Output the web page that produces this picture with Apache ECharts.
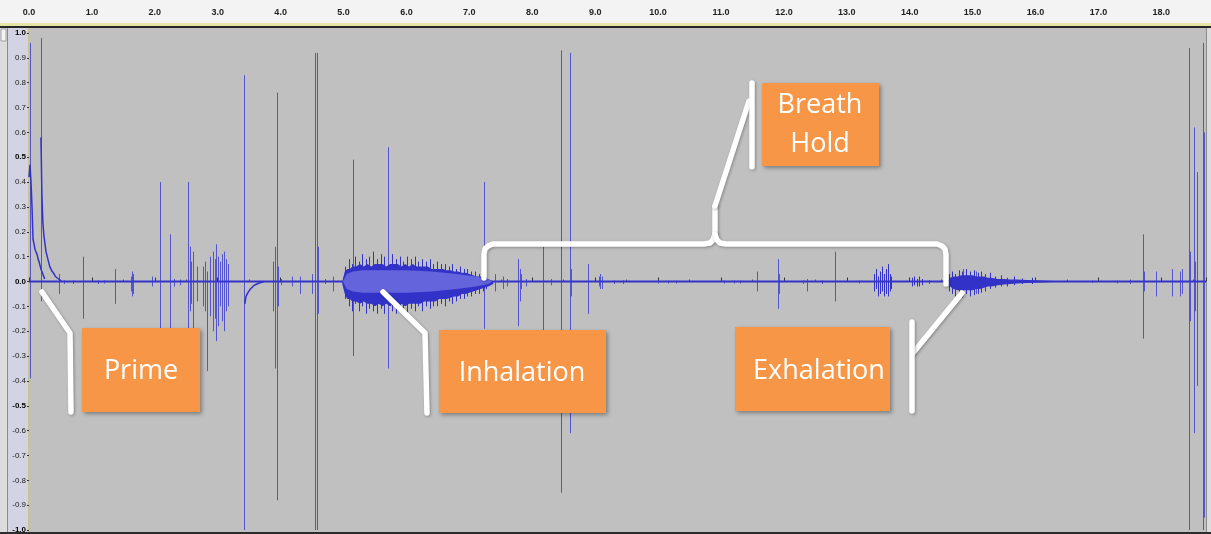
<!DOCTYPE html>
<html>
<head>
<meta charset="utf-8">
<script src="https://cdn.jsdelivr.net/npm/echarts@6/dist/echarts.min.js"></script>
<style>
  html, body { margin: 0; padding: 0; background: #f3f3f3; }
  #chart { width: 1211px; height: 534px; }
</style>
</head>
<body>
<div id="chart"></div>
<script>
// time range of the recording (seconds) and amplitude range
const TIME_MAX = 18.71;
const BOLD_TICKS = ["1.0", "0.5", "0.0", "-0.5", "-1.0"];

// single clicks / spikes: [time, max, min]
const SPIKES = [
  [0.016, 0.96, -0.39], [0.19, 0.98, -0.08], [0.48, 0.03, -0.05], [0.86, 0.10, -0.15],
  [1.37, 0.05, -0.09], [1.62, 0.02, -0.04], [1.64, 0.04, -0.06], [1.66, 0.03, -0.05],
  [1.96, 0.02, -0.02], [2.08, 0.40, -0.19], [2.24, 0.19, -0.21], [2.53, 0.40, -0.19],
  [2.56, 0.14, -0.12], [2.58, 0.08, -0.09], [2.61, 0.12, -0.20], [2.67, 0.06, -0.08],
  [2.77, 0.06, -0.10], [2.80, 0.08, -0.12], [2.83, 0.04, -0.36], [2.88, 0.10, -0.14],
  [2.93, 0.12, -0.20], [2.95, 0.09, -0.15], [2.97, 0.15, -0.24], [3.00, 0.10, -0.18],
  [3.04, 0.08, -0.10], [3.07, 0.11, -0.16], [3.10, 0.12, -0.20], [3.13, 0.09, -0.12],
  [3.16, 0.07, -0.10], [3.42, 0.83, -1.00], [3.88, 0.08, -0.12], [3.91, 0.14, -0.35],
  [3.94, 0.76, -0.88], [3.96, 0.06, -0.10], [4.18, 0.02, -0.02], [4.31, 0.02, -0.05],
  [4.50, 0.03, -0.05], [4.55, 0.92, -1.00], [4.58, 0.92, -1.00], [4.60, 0.14, -0.13],
  [4.83, 0.02, -0.04], [5.15, 0.49, -0.30], [5.71, 0.54, -0.35], [7.23, 0.40, -0.19],
  [7.40, 0.03, -0.04], [7.54, 0.02, -0.03], [7.77, 0.09, -0.18], [7.80, 0.05, -0.08],
  [7.82, 0.03, -0.03], [8.17, 0.14, -0.20], [8.46, 0.93, -0.85], [8.60, 0.92, -0.61],
  [8.62, 0.05, -0.06], [8.89, 0.07, -0.13], [9.06, 0.02, -0.02], [9.08, 0.03, -0.03],
  [9.11, 0.02, -0.03], [11.57, 0.04, -0.04], [11.91, 0.09, -0.11], [11.93, 0.03, -0.05],
  [12.37, 0.01, -0.04], [12.81, 0.12, -0.08], [14.85, 0.05, -0.06], [15.05, 0.04, -0.05],
  [17.71, 0.19, -0.23], [17.73, 0.04, -0.04], [17.92, 0.04, -0.06], [18.17, 0.05, -0.06],
  [18.30, 0.04, -0.06], [18.33, 0.05, -0.05], [18.44, 0.94, -1.00], [18.46, 0.12, -0.16],
  [18.52, 0.62, -0.61], [18.54, 0.08, -0.12], [18.57, 0.44, -0.42], [18.66, 0.96, -1.00],
  [18.68, 0.60, -0.95]
];

// dense hair-like peaks inside the breath sounds and small bursts: [time, max, min]
const HAIRS = [
  [5.02, 0.06, -0.07], [5.08, 0.09, -0.10], [5.13, 0.07, -0.12], [5.19, 0.10, -0.09],
  [5.24, 0.08, -0.12], [5.29, 0.11, -0.10], [5.35, 0.09, -0.13], [5.41, 0.10, -0.11],
  [5.47, 0.12, -0.12], [5.53, 0.09, -0.13], [5.59, 0.11, -0.11], [5.65, 0.10, -0.13],
  [5.77, 0.11, -0.12], [5.83, 0.09, -0.13], [5.89, 0.10, -0.11], [5.95, 0.08, -0.12],
  [6.01, 0.10, -0.13], [6.07, 0.09, -0.11], [6.13, 0.10, -0.12], [6.19, 0.08, -0.10],
  [6.25, 0.09, -0.12], [6.31, 0.08, -0.10], [6.37, 0.09, -0.11], [6.43, 0.07, -0.10],
  [6.49, 0.08, -0.10], [6.55, 0.07, -0.09], [6.61, 0.07, -0.10], [6.67, 0.06, -0.08],
  [6.73, 0.07, -0.09], [6.79, 0.05, -0.08], [6.85, 0.06, -0.07], [6.91, 0.05, -0.07],
  [6.97, 0.05, -0.06], [7.03, 0.04, -0.06], [7.09, 0.04, -0.05], [7.15, 0.03, -0.05],
  [7.21, 0.03, -0.04], [7.27, 0.02, -0.03],
  [13.44, 0.03, -0.04], [13.47, 0.05, -0.03], [13.50, 0.02, -0.06], [13.53, 0.04, -0.05],
  [13.56, 0.06, -0.04], [13.59, 0.03, -0.06], [13.62, 0.05, -0.05], [13.65, 0.07, -0.06],
  [13.68, 0.03, -0.04], [13.71, 0.02, -0.03],
  [14.03, 0.015, -0.02], [14.07, 0.02, -0.015], [14.11, 0.01, -0.02], [14.15, 0.02, -0.02],
  [14.19, 0.01, -0.015],
  [14.62, 0.03, -0.04], [14.67, 0.04, -0.05], [14.72, 0.03, -0.06], [14.78, 0.045, -0.05],
  [14.83, 0.04, -0.065], [14.90, 0.05, -0.05], [14.96, 0.04, -0.06], [15.02, 0.045, -0.055],
  [15.08, 0.035, -0.05], [15.14, 0.04, -0.045], [15.20, 0.03, -0.04], [15.27, 0.035, -0.03],
  [15.35, 0.02, -0.025], [15.45, 0.025, -0.02], [15.55, 0.015, -0.02], [15.65, 0.02, -0.015],
  [15.78, 0.012, -0.01], [15.95, 0.015, -0.01]
];

// low level noise on the baseline: [time, max, min]
const NOISE = [
  [0.55, 0.005, -0.01], [0.70, 0.005, -0.01], [1.10, 0.005, -0.01], [1.20, 0.005, -0.008],
  [2.30, 0.01, -0.02], [2.40, 0.008, -0.015], [4.00, 0.01, -0.015], [4.70, 0.01, -0.01],
  [7.60, 0.01, -0.02], [7.90, 0.01, -0.02], [8.30, 0.01, -0.015], [9.30, 0.005, -0.01],
  [9.45, 0.005, -0.01], [10.00, 0.004, -0.008], [10.15, 0.004, -0.008], [10.28, 0.004, -0.008],
  [11.05, 0.004, -0.008], [11.20, 0.004, -0.008], [11.30, 0.004, -0.008], [12.30, 0.005, -0.01],
  [12.60, 0.005, -0.01], [13.20, 0.004, -0.008], [14.30, 0.006, -0.01], [16.90, 0.004, -0.006],
  [17.30, 0.004, -0.008], [17.50, 0.004, -0.01]
];

// priming decay curves: [time, value]
const PRIME_DECAY_1 = [
  [0.00, 0.42], [0.016, 0.47], [0.032, 0.40], [0.048, 0.30], [0.064, 0.17], [0.08, 0.15],
  [0.095, 0.13], [0.11, 0.12], [0.127, 0.11], [0.145, 0.09], [0.16, 0.08], [0.19, 0.05],
  [0.22, 0.03], [0.25, 0.01]
];
const PRIME_DECAY_2 = [
  [0.19, 0.58], [0.205, 0.35], [0.22, 0.24], [0.235, 0.19], [0.25, 0.16], [0.27, 0.12],
  [0.29, 0.10], [0.31, 0.08], [0.33, 0.06], [0.35, 0.05], [0.37, 0.04], [0.40, 0.03],
  [0.42, 0.02], [0.47, 0.01], [0.52, 0.0]
];
const NEG_DECAY = [
  [3.43, -0.09], [3.45, -0.06], [3.48, -0.045], [3.52, -0.03], [3.58, -0.015],
  [3.66, -0.006], [3.74, 0.0]
];

// breath sounds, envelopes: [time, max, min]
const INHALE_OUTER = [
  [4.98, 0.00, -0.01], [5.02, 0.04, -0.05], [5.06, 0.05, -0.07], [5.10, 0.05, -0.07],
  [5.14, 0.06, -0.08], [5.20, 0.06, -0.08], [5.26, 0.07, -0.09], [5.32, 0.06, -0.08],
  [5.38, 0.07, -0.09], [5.44, 0.06, -0.09], [5.50, 0.07, -0.10], [5.56, 0.07, -0.09],
  [5.62, 0.07, -0.10], [5.68, 0.06, -0.09], [5.74, 0.07, -0.10], [5.80, 0.07, -0.09],
  [5.86, 0.07, -0.10], [5.92, 0.06, -0.09], [5.98, 0.07, -0.10], [6.04, 0.06, -0.09],
  [6.10, 0.07, -0.09], [6.16, 0.06, -0.09], [6.22, 0.06, -0.09], [6.28, 0.06, -0.08],
  [6.34, 0.06, -0.08], [6.40, 0.05, -0.08], [6.46, 0.05, -0.08], [6.52, 0.05, -0.07],
  [6.58, 0.05, -0.07], [6.64, 0.045, -0.07], [6.70, 0.045, -0.065], [6.76, 0.04, -0.06],
  [6.82, 0.04, -0.06], [6.88, 0.035, -0.05], [6.94, 0.035, -0.05], [7.00, 0.03, -0.045],
  [7.06, 0.025, -0.04], [7.12, 0.02, -0.035], [7.18, 0.02, -0.03], [7.24, 0.015, -0.025],
  [7.30, 0.01, -0.02], [7.38, 0.00, -0.01]
];
const INHALE_CORE = [
  [4.99, 0.0, 0.0], [5.05, 0.03, -0.03], [5.15, 0.04, -0.04], [5.30, 0.045, -0.045],
  [5.60, 0.045, -0.045], [6.00, 0.045, -0.045], [6.40, 0.04, -0.04], [6.80, 0.03, -0.03],
  [7.10, 0.02, -0.02], [7.30, 0.01, -0.01], [7.36, 0.0, 0.0]
];
const EXHALE = [
  [14.58, 0.0, 0.0], [14.64, 0.015, -0.02], [14.70, 0.02, -0.03], [14.76, 0.02, -0.035],
  [14.82, 0.025, -0.035], [14.88, 0.025, -0.035], [14.94, 0.025, -0.035], [15.00, 0.025, -0.035],
  [15.06, 0.02, -0.03], [15.12, 0.02, -0.03], [15.18, 0.02, -0.025], [15.24, 0.015, -0.02],
  [15.30, 0.015, -0.02], [15.40, 0.01, -0.015], [15.50, 0.01, -0.012], [15.60, 0.008, -0.01],
  [15.70, 0.008, -0.008], [15.85, 0.006, -0.006], [16.00, 0.005, -0.005], [16.20, 0.003, -0.003],
  [16.50, 0.0, 0.0]
];

const DARK = "#3232c8";
const LIGHT = "#6464dc";
const SPIKE = "rgba(56,56,210,0.8)";

const chart = echarts.init(document.getElementById("chart"));

const spikeSeries = (data, color) => ({
  type: "custom",
  data: data,
  silent: true,
  z: 4,
  encode: { x: 0, y: [1, 2] },
  renderItem: (params, api) => {
    const top = api.coord([api.value(0), api.value(1)]);
    const bot = api.coord([api.value(0), api.value(2)]);
    const x = Math.round(top[0]) + 0.5;
    return {
      type: "line",
      shape: { x1: x, y1: top[1], x2: x, y2: bot[1] },
      style: { stroke: color, lineWidth: 1 }
    };
  }
});

const envelopeSeries = (list, color, z) => ({
  type: "custom",
  data: list.map((_, i) => [i]),
  silent: true,
  z: z,
  renderItem: (params, api) => {
    const env = list[params.dataIndex];
    const top = env.map((p) => api.coord([p[0], p[1]]));
    const bottom = env.slice().reverse().map((p) => api.coord([p[0], p[2]]));
    return { type: "polygon", shape: { points: top.concat(bottom) }, style: { fill: color } };
  }
});

const decaySeries = (data) => ({
  type: "line",
  data: data,
  symbol: "none",
  silent: true,
  z: 4,
  lineStyle: { color: DARK, width: 1.5 }
});

// audacity window chrome and the annotation callouts
const chrome = [
  { type: "rect", z: -10, shape: { x: 0, y: 0, width: 1211, height: 22 }, style: { fill: "#f3f3f3" } },
  { type: "rect", z: -10, shape: { x: 0, y: 23, width: 1211, height: 3 }, style: { fill: "#e4e4a4" } },
  { type: "rect", z: -10, shape: { x: 0, y: 26, width: 1211, height: 2 }, style: { fill: "#262626" } },
  { type: "rect", z: -10, shape: { x: 0, y: 28, width: 8, height: 506 }, style: { fill: "#dcdcdc" } },
  { type: "rect", z: -10, shape: { x: 1, y: 29, width: 5, height: 12 }, style: { fill: "#f4f4f4", stroke: "#a0a0a0", lineWidth: 1 } },
  { type: "rect", z: -10, shape: { x: 7, y: 28, width: 1, height: 506 }, style: { fill: "#8a8a8a" } },
  { type: "rect", z: -10, shape: { x: 8, y: 28, width: 20, height: 506 }, style: { fill: "#d3d3e3" } },
  { type: "rect", z: -10, shape: { x: 28, y: 28, width: 1, height: 504 }, style: { fill: "#c4c48c" } },
  { type: "rect", z: -10, shape: { x: 29, y: 28, width: 1177, height: 504 }, style: { fill: "#c0c0c0" } },
  { type: "rect", z: -10, shape: { x: 1206, y: 28, width: 5, height: 506 }, style: { fill: "#dcdcdc" } },
  { type: "rect", z: -10, shape: { x: 1206, y: 28, width: 1, height: 506 }, style: { fill: "#8c8c8c" } },
  { type: "rect", z: -10, shape: { x: 0, y: 532, width: 1211, height: 2 }, style: { fill: "#2c2c2c" } }
];

const connector = { stroke: "#ffffff", lineWidth: 5.5, lineCap: "round", lineJoin: "round", fill: null,
  shadowBlur: 3, shadowOffsetX: 1, shadowOffsetY: 1, shadowColor: "rgba(0,0,0,0.3)" };
const box = { fill: "#f79646", shadowBlur: 4, shadowOffsetX: 2, shadowOffsetY: 2, shadowColor: "rgba(0,0,0,0.35)" };
const label = { fill: "#ffffff", font: "27px 'Open Sans'", align: "center", verticalAlign: "middle", lineHeight: 39 };

const callouts = [
  { type: "polyline", z: 100, shape: { points: [[42, 292], [70, 333], [71, 412]] }, style: connector },
  { type: "rect", z: 100, shape: { x: 82, y: 328, width: 118, height: 84 }, style: box },
  { type: "text", z: 101, style: Object.assign({ text: "Prime", x: 141, y: 371 }, label) },

  { type: "polyline", z: 100, shape: { points: [[383, 292], [425, 333], [427, 413]] }, style: connector },
  { type: "rect", z: 100, shape: { x: 439, y: 330, width: 167, height: 83 }, style: box },
  { type: "text", z: 101, style: Object.assign({ text: "Inhalation", x: 522, y: 373 }, label) },

  { type: "polyline", z: 100, shape: { points: [[962, 293], [913, 353]] }, style: connector },
  { type: "polyline", z: 100, shape: { points: [[912, 322], [912, 411]] }, style: connector },
  { type: "rect", z: 100, shape: { x: 735, y: 327, width: 155, height: 84 }, style: box },
  { type: "text", z: 101, style: Object.assign({ text: "Exhalation", x: 819, y: 371 }, label) },

  { type: "polyline", z: 100, shape: { points: [[484, 278], [484, 254], [485, 249], [488, 246], [493, 244],
      [704, 244], [710, 243], [713, 240], [715, 234], [715, 206]] }, style: connector },
  { type: "polyline", z: 100, shape: { points: [[946, 284], [946, 254], [945, 249], [942, 246], [937, 244],
      [726, 244], [720, 243], [717, 240], [715, 234]] }, style: connector },
  { type: "polyline", z: 100, shape: { points: [[715, 206], [749, 101]] }, style: connector },
  { type: "polyline", z: 100, shape: { points: [[752, 83], [752, 167]] }, style: connector },
  { type: "rect", z: 100, shape: { x: 762, y: 83, width: 117, height: 83 }, style: box },
  { type: "text", z: 101, style: Object.assign({ text: "Breath\nHold", x: 820, y: 125 }, label) }
];

const fmtY = (v) => {
  const s = Math.abs(v) < 1e-9 ? "0.0" : v.toFixed(1);
  return BOLD_TICKS.includes(s) ? "{b|" + s + "}" : s;
};

chart.setOption({
  animation: false,
  backgroundColor: "#f3f3f3",
  grid: { left: 29, right: 5, top: 33, bottom: 4 },
  xAxis: {
    type: "value",
    position: "top",
    offset: 11,
    min: 0,
    max: TIME_MAX,
    interval: 1,
    axisLine: { show: true, lineStyle: { color: "#b4b4b4", width: 1 } },
    axisTick: { show: true, length: 4, lineStyle: { color: "#333" } },
    minorTick: { show: true, splitNumber: 2, length: 2, lineStyle: { color: "#555" } },
    splitLine: { show: false },
    axisLabel: {
      margin: 5,
      showMaxLabel: false,
      color: "#1e1e1e",
      fontSize: 9,
      fontWeight: "bold",
      fontFamily: "Liberation Sans",
      formatter: (v) => v.toFixed(1)
    }
  },
  yAxis: {
    type: "value",
    min: -1,
    max: 1,
    interval: 0.1,
    axisLine: { show: false },
    axisTick: { show: true, length: 2, lineStyle: { color: "#333" } },
    splitLine: { show: false },
    axisLabel: {
      margin: 3,
      color: "#1a1a1a",
      fontSize: 8,
      fontFamily: "Liberation Sans",
      formatter: fmtY,
      rich: { b: { fontWeight: "bold", fontSize: 8, fontFamily: "Liberation Sans", color: "#000" } }
    }
  },
  graphic: chrome.concat(callouts),
  series: [
    {
      type: "line",
      data: [[0, 0], [TIME_MAX, 0]],
      symbol: "none",
      silent: true,
      z: 3,
      lineStyle: { color: DARK, width: 2 }
    },
    spikeSeries(NOISE, SPIKE),
    spikeSeries(SPIKES, SPIKE),
    spikeSeries(HAIRS, DARK),
    envelopeSeries([INHALE_OUTER, EXHALE], DARK, 5),
    envelopeSeries([INHALE_CORE], LIGHT, 6),
    decaySeries(PRIME_DECAY_1),
    decaySeries(PRIME_DECAY_2),
    decaySeries(NEG_DECAY)
  ]
});
</script>
</body>
</html>
